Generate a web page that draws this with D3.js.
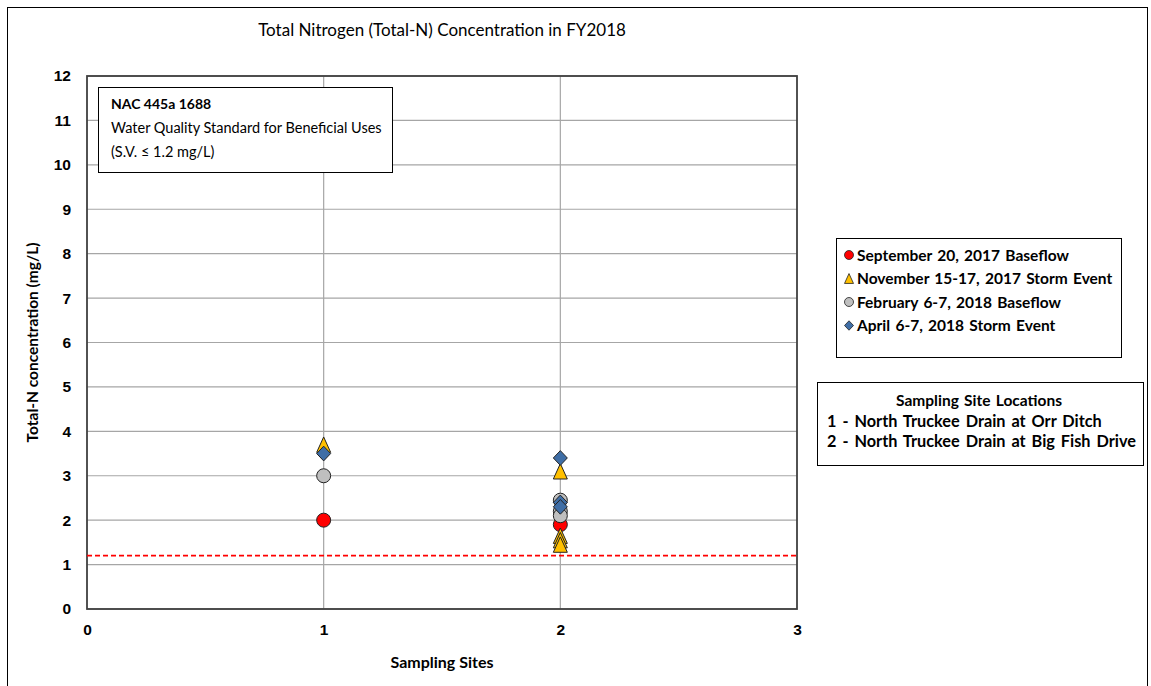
<!DOCTYPE html>
<html>
<head>
<meta charset="utf-8">
<script src="https://cdn.jsdelivr.net/npm/d3@7"></script>
<style>
  body { margin: 0; background: #fff; }
  svg { font-family: Lato, "Open Sans", sans-serif; }
  .tick text { font-weight: bold; font-size: 15.5px; fill: #000; }
</style>
</head>
<body>
<script>
//chart values
var xTickValues = [0, 1, 2, 3];
var yTickValues = [0, 1, 2, 3, 4, 5, 6, 7, 8, 9, 10, 11, 12];
var standardValue = 1.2; //S.V. in mg/L

//[site, Total-N mg/L]
var sept2017 = [[1, 2.0], [2, 1.9]];
var nov2017 = [[1, 3.7], [2, 3.1], [2, 1.65], [2, 1.55], [2, 1.45]];
var feb2018 = [[1, 3.0], [2, 2.45], [2, 2.2], [2, 2.1]];
var apr2018 = [[1, 3.5], [2, 3.4], [2, 2.4], [2, 2.3]];

var seriesNames = ["September 20, 2017 Baseflow", "November 15-17, 2017 Storm Event",
                   "February 6-7, 2018 Baseflow", "April 6-7, 2018 Storm Event"];
var siteNames = ["1 - North Truckee Drain at Orr Ditch", "2 - North Truckee Drain at Big Fish Drive"];

window.onload = setChart();

function setChart(){
    var width = 1151,
        height = 686;

    var svg = d3.select("body")
        .append("svg")
        .attr("width", width)
        .attr("height", height);

    //outer chart border
    svg.append("rect")
        .attr("x", 7.5).attr("y", 7.5)
        .attr("width", 1140).attr("height", 720)
        .style("fill", "#fff")
        .style("stroke", "#000")
        .style("stroke-width", 1);

    var x = d3.scaleLinear().domain([0, 3]).range([87, 797]);
    var y = d3.scaleLinear().domain([0, 12]).range([609, 76]);

    //gridlines
    svg.append("g")
        .selectAll("line.hgrid")
        .data(yTickValues)
        .enter()
        .append("line")
        .attr("x1", x(0)).attr("x2", x(3))
        .attr("y1", function(d){ return y(d); })
        .attr("y2", function(d){ return y(d); })
        .style("stroke", "#a6a6a6")
        .style("stroke-width", 1.2);

    svg.append("g")
        .selectAll("line.vgrid")
        .data(xTickValues.slice(1, 3))
        .enter()
        .append("line")
        .attr("y1", y(0)).attr("y2", y(12))
        .attr("x1", function(d){ return x(d); })
        .attr("x2", function(d){ return x(d); })
        .style("stroke", "#a6a6a6")
        .style("stroke-width", 1.2);

    //plot area border
    svg.append("rect")
        .attr("x", x(0)).attr("y", y(12))
        .attr("width", x(3) - x(0)).attr("height", y(0) - y(12))
        .style("fill", "none")
        .style("stroke", "#404040")
        .style("stroke-width", 1.8);

    //axes
    var yAxis = d3.axisLeft(y).tickValues(yTickValues).tickSize(0).tickPadding(16);
    svg.append("g")
        .attr("transform", "translate(" + x(0) + ",0)")
        .call(yAxis)
        .call(function(g){ g.select(".domain").remove(); });

    var xAxis = d3.axisBottom(x).tickValues(xTickValues).tickFormat(d3.format("d")).tickSize(0).tickPadding(15);
    svg.append("g")
        .attr("transform", "translate(0," + y(0) + ")")
        .call(xAxis)
        .call(function(g){ g.select(".domain").remove(); });

    //standard value line
    svg.append("line")
        .attr("x1", x(0)).attr("x2", x(3))
        .attr("y1", y(standardValue)).attr("y2", y(standardValue))
        .style("stroke", "#ff0000")
        .style("stroke-width", 1.8)
        .style("stroke-dasharray", "5,3");

    //titles
    svg.append("text")
        .attr("x", (x(0) + x(3)) / 2).attr("y", 36)
        .attr("text-anchor", "middle")
        .style("font-size", "17px")
        .text("Total Nitrogen (Total-N) Concentration in FY2018");

    svg.append("text")
        .attr("x", (x(0) + x(3)) / 2).attr("y", 668)
        .attr("text-anchor", "middle")
        .style("font-size", "16px")
        .style("font-weight", "bold")
        .text("Sampling Sites");

    svg.append("text")
        .attr("transform", "translate(38," + y(6) + ") rotate(-90)")
        .attr("text-anchor", "middle")
        .style("font-size", "15.5px")
        .style("font-weight", "bold")
        .text("Total-N concentration (mg/L)");

    //marker shapes
    function triangle(w, h){
        return "M0," + (-h / 2) + "L" + (w / 2) + "," + (h / 2) + "L" + (-w / 2) + "," + (h / 2) + "Z";
    }
    function diamond(w, h){
        return "M0," + (-h / 2) + "L" + (w / 2) + ",0L0," + (h / 2) + "L" + (-w / 2) + ",0Z";
    }
    var markers = [
        {data: sept2017, fill: "#ff0000", path: function(s){ return d3.symbol(d3.symbolCircle, Math.PI * s * s / 4)(); }},
        {data: nov2017, fill: "#ffc000", path: function(s){ return triangle(s, s * 1.1); }},
        {data: feb2018, fill: "#bfbfbf", path: function(s){ return d3.symbol(d3.symbolCircle, Math.PI * s * s / 4)(); }},
        {data: apr2018, fill: "#3f6ea6", path: function(s){ return diamond(s, s * 1.05); }}
    ];

    //points, later series on top
    markers.forEach(function(m){
        svg.append("g")
            .selectAll("path")
            .data(m.data)
            .enter()
            .append("path")
            .attr("transform", function(d){ return "translate(" + x(d[0]) + "," + y(d[1]) + ")"; })
            .attr("d", m.path(14))
            .style("fill", m.fill)
            .style("stroke", "#222")
            .style("stroke-width", 1);
    });

    //standard note box
    var note = svg.append("g");
    note.append("rect")
        .attr("x", 98.5).attr("y", 87.5)
        .attr("width", 294).attr("height", 85)
        .style("fill", "#fff")
        .style("stroke", "#000")
        .style("stroke-width", 1);
    note.append("text").attr("x", 111).attr("y", 109)
        .style("font-size", "14px").style("font-weight", "bold")
        .text("NAC 445a 1688");
    note.append("text").attr("x", 111).attr("y", 133)
        .style("font-size", "14.5px")
        .text("Water Quality Standard for Beneficial Uses");
    note.append("text").attr("x", 111).attr("y", 157)
        .style("font-size", "14.5px")
        .text("(S.V. \u2264 1.2 mg/L)");

    //series legend
    var legend = svg.append("g");
    legend.append("rect")
        .attr("x", 836.5).attr("y", 238.5)
        .attr("width", 285).attr("height", 119)
        .style("fill", "#fff")
        .style("stroke", "#000")
        .style("stroke-width", 1);
    var rows = legend.selectAll("g.row")
        .data(markers)
        .enter()
        .append("g")
        .attr("transform", function(d, i){ return "translate(849," + (255 + i * 23.5) + ")"; });
    rows.append("path")
        .attr("d", function(d){ return d.path(9); })
        .style("fill", function(d){ return d.fill; })
        .style("stroke", "#222")
        .style("stroke-width", 0.8);
    rows.append("text")
        .attr("x", 8).attr("y", 5.5)
        .style("font-size", "15.5px").style("font-weight", "bold")
        .style("word-spacing", "1.5px")
        .text(function(d, i){ return seriesNames[i]; });

    //site legend
    var sitesBox = svg.append("g");
    sitesBox.append("rect")
        .attr("x", 817.5).attr("y", 382.5)
        .attr("width", 326).attr("height", 83)
        .style("fill", "#fff")
        .style("stroke", "#000")
        .style("stroke-width", 1);
    sitesBox.append("text")
        .attr("x", 979).attr("y", 406)
        .attr("text-anchor", "middle")
        .style("font-size", "15.5px").style("font-weight", "bold")
        .style("word-spacing", "1.5px")
        .text("Sampling Site Locations");
    sitesBox.selectAll("text.site")
        .data(siteNames)
        .enter()
        .append("text")
        .attr("x", 827)
        .attr("y", function(d, i){ return 427 + i * 20; })
        .style("font-size", "16.3px").style("font-weight", "bold")
        .style("word-spacing", "2px")
        .text(function(d){ return d; });
}
</script>
</body>
</html>
